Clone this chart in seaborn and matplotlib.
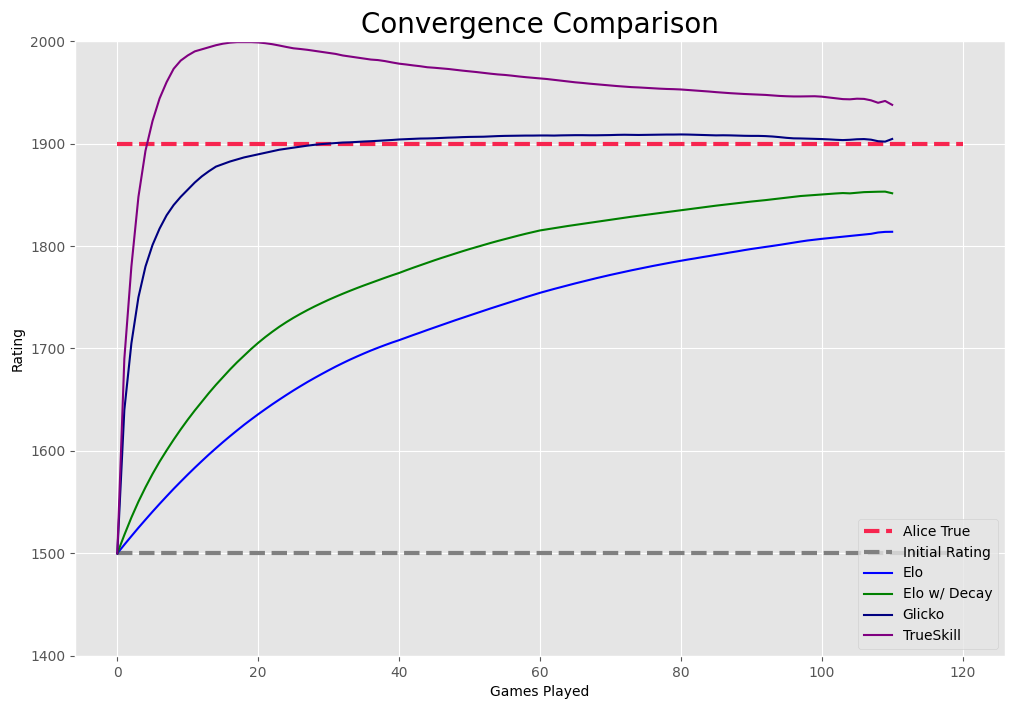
import numpy as np
import pandas as pd
import matplotlib
matplotlib.use("Agg")
import matplotlib.pyplot as plt
import seaborn as sns

# --- Data ---
games = list(range(0, 111))
true_rating = 1900
initial_rating = 1500
ref_x = [0, 120]

elo = [
    1500, 1508.5, 1516.8, 1525.0, 1532.9, 1540.7, 1548.3, 1555.7, 1563.0, 1570.0,
    1576.9, 1583.6, 1590.1, 1596.5, 1602.6, 1608.6, 1614.4, 1620.0, 1625.5, 1630.7,
    1635.8, 1640.7, 1645.5, 1650.1, 1654.6, 1659.0, 1663.2, 1667.3, 1671.2, 1675.0,
    1678.7, 1682.3, 1685.7, 1689.0, 1692.1, 1695.1, 1698.0, 1700.7, 1703.3, 1705.8,
    1708.1, 1710.6, 1713.1, 1715.5, 1718.0, 1720.4, 1722.8, 1725.2, 1727.6, 1729.9,
    1732.2, 1734.5, 1736.8, 1739.1, 1741.3, 1743.5, 1745.7, 1747.9, 1750.1, 1752.2,
    1754.3, 1756.2, 1758.1, 1759.9, 1761.7, 1763.5, 1765.2, 1766.9, 1768.6, 1770.2,
    1771.8, 1773.3, 1774.8, 1776.3, 1777.7, 1779.1, 1780.5, 1781.8, 1783.1, 1784.4,
    1785.6, 1786.8, 1787.9, 1789.1, 1790.2, 1791.4, 1792.5, 1793.7, 1794.8, 1796.0,
    1797.1, 1798.1, 1799.1, 1800.1, 1801.1, 1802.2, 1803.3, 1804.4, 1805.4, 1806.2,
    1807.0, 1807.7, 1808.4, 1809.1, 1809.8, 1810.5, 1811.2, 1811.9, 1813.2, 1813.8,
    1813.9,
]

elo_decay = [
    1500, 1518, 1535, 1550.5, 1564.5, 1577.5, 1589.5, 1600.5, 1611, 1621,
    1630.5, 1639.5, 1648, 1656.5, 1664.5, 1672, 1679.5, 1686.5, 1693, 1699.5,
    1705.5, 1711.1, 1716.3, 1721.2, 1725.7, 1729.9, 1733.8, 1737.5, 1741.0, 1744.3,
    1747.5, 1750.5, 1753.4, 1756.2, 1758.9, 1761.5, 1764.0, 1766.5, 1769.0, 1771.4,
    1773.7, 1776.3, 1778.8, 1781.2, 1783.6, 1786.0, 1788.3, 1790.5, 1792.7, 1794.9,
    1797.0, 1799.0, 1801.0, 1803.0, 1804.9, 1806.7, 1808.5, 1810.3, 1812.0, 1813.6,
    1815.2, 1816.3, 1817.4, 1818.5, 1819.6, 1820.6, 1821.6, 1822.6, 1823.6, 1824.6,
    1825.6, 1826.6, 1827.6, 1828.6, 1829.5, 1830.4, 1831.3, 1832.2, 1833.1, 1834.0,
    1834.9, 1835.8, 1836.7, 1837.6, 1838.5, 1839.4, 1840.2, 1841.0, 1841.8, 1842.6,
    1843.4, 1844.1, 1844.8, 1845.6, 1846.4, 1847.2, 1848.0, 1848.8, 1849.3, 1849.8,
    1850.3, 1850.8, 1851.3, 1851.7, 1851.4, 1852.0, 1852.6, 1852.8, 1853.0, 1853.1,
    1851.5,
]

glicko = [
    1500, 1640, 1705, 1750, 1780, 1801, 1817, 1830, 1840, 1848,
    1855, 1862, 1868, 1873, 1877.5, 1880, 1882.5, 1884.5, 1886.5, 1888,
    1889.5, 1891, 1892.5, 1894, 1895, 1896, 1897, 1898, 1898.8, 1899.5,
    1900, 1900.5, 1901, 1901.2, 1901.6, 1902, 1902.3, 1902.7, 1903.1, 1903.5,
    1904, 1904.3, 1904.6, 1904.9, 1905, 1905.2, 1905.5, 1905.8, 1906, 1906.3,
    1906.5, 1906.6, 1906.7, 1907, 1907.3, 1907.5, 1907.6, 1907.7, 1907.8, 1907.8,
    1907.9, 1907.9, 1907.8, 1908, 1908.1, 1908.2, 1908.2, 1908.1, 1908.1, 1908.2,
    1908.3, 1908.5, 1908.6, 1908.5, 1908.4, 1908.5, 1908.6, 1908.7, 1908.8, 1908.8,
    1908.9, 1908.8, 1908.6, 1908.4, 1908.2, 1908.0, 1908.1, 1908.0, 1907.8, 1907.6,
    1907.5, 1907.5, 1907.3, 1906.9, 1906.3, 1905.6, 1905.1, 1905.0, 1904.8, 1904.6,
    1904.4, 1904.1, 1903.7, 1903.4, 1903.7, 1904.2, 1904.4, 1903.8, 1902.3, 1901.9,
    1904.5,
]

trueskill = [
    1500, 1690, 1780, 1848, 1893, 1922, 1944, 1960, 1973, 1981,
    1986, 1990, 1992, 1994, 1996, 1997.5, 1998.5, 1999, 1999, 1999,
    1998.7, 1998, 1997, 1995.7, 1994.3, 1993, 1992.3, 1991.5, 1990.5, 1989.5,
    1988.5, 1987.5, 1986, 1985, 1984, 1983, 1982, 1981.5, 1980.5, 1979.2,
    1978, 1977.2, 1976.3, 1975.5, 1974.5, 1974, 1973.4, 1972.8, 1972, 1971.2,
    1970.5, 1969.8, 1969, 1968.2, 1967.5, 1967, 1966.3, 1965.5, 1964.8, 1964.2,
    1963.6, 1963, 1962.2, 1961.4, 1960.6, 1959.8, 1959.2, 1958.5, 1957.9, 1957.3,
    1956.7, 1956.1, 1955.6, 1955.1, 1954.8, 1954.4, 1954, 1953.6, 1953.3, 1953.1,
    1952.8, 1952.3, 1951.8, 1951.3, 1950.8, 1950.2, 1949.7, 1949.2, 1948.8, 1948.4,
    1948.1, 1947.8, 1947.5, 1947, 1946.5, 1946.2, 1946, 1946, 1946.1, 1946.2,
    1945.8, 1945, 1944.2, 1943.4, 1943.2, 1943.8, 1943.6, 1942.2, 1939.8, 1941.6,
    1937.8,
]

series_names = ["Elo", "Elo w/ Decay", "Glicko", "TrueSkill"]
series_values = [elo, elo_decay, glicko, trueskill]
series_colors = ["blue", "green", "navy", "purple"]

# --- Plot ---
plt.style.use("ggplot")
fig, ax = plt.subplots(figsize=(10.14, 7.09), dpi=100)

sns.lineplot(x=ref_x, y=[true_rating] * 2, ax=ax, color="#f7254f",
             linestyle="--", linewidth=3, label="Alice True")
sns.lineplot(x=ref_x, y=[initial_rating] * 2, ax=ax, color="gray",
             linestyle="--", linewidth=3, label="Initial Rating")

for name, vals, col in zip(series_names, series_values, series_colors):
    sns.lineplot(x=games, y=vals, ax=ax, color=col, linewidth=1.5, label=name)

ax.set_ylim(1400, 2000)
ax.set_xticks(range(0, 121, 20))
ax.set_title("Convergence Comparison", fontsize=20, color="black")
ax.set_xlabel("Games Played", fontsize=10, color="black")
ax.set_ylabel("Rating", fontsize=10, color="black")
ax.tick_params(labelsize=10)
ax.legend(loc="lower right", fontsize=10)

fig.subplots_adjust(left=0.074, right=0.991, top=0.942, bottom=0.075)
fig.savefig("out.png", dpi=100)
